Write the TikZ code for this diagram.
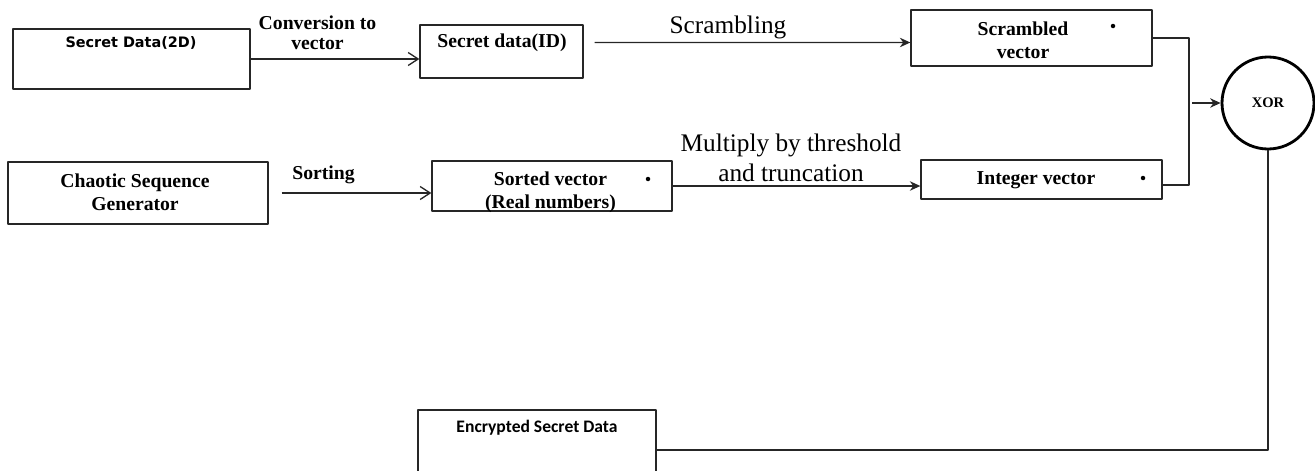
\documentclass[tikz,border=0pt]{standalone}
\usepackage{fontspec}
\setmainfont{Liberation Serif}
\newfontfamily\dvsans{DejaVu Sans}
\newfontfamily\carlito{Carlito}
\usetikzlibrary{arrows.meta}
\tikzset{
  every picture/.style={line join=round, >=Stealth},
  box/.style={draw=black!85, line width=0.75pt, inner sep=0pt},
  boxtext/.style={font=\fontsize{11.2}{13}\selectfont\bfseries, align=center, inner sep=0pt},
  steplabel/.style={font=\fontsize{11.2}{11.5}\selectfont\bfseries, align=center, inner sep=0pt},
  oplabel/.style={font=\fontsize{14.4}{17}\selectfont, align=center, inner sep=0pt},
  link/.style={draw=black!85, line width=0.75pt},
  openarrow/.style={link, -{Straight Barb[length=2mm,width=2.6mm]}},
  fillarrow/.style={link, -{Stealth[length=2.1mm,width=1.9mm]}},
}

\begin{document}
\begin{tikzpicture}
\useasboundingbox (0,0) rectangle (26.300,9.400);
\clip (0,0) rectangle (26.300,9.400);
\node[box,minimum width=4.740cm,minimum height=1.200cm] (sd2) at (2.630,8.220) {};
\node[font=\dvsans\bfseries\fontsize{8.2}{10}\selectfont] (sd2txt) at (2.620,8.540) {Secret Data(2D)};
\node[box,minimum width=3.260cm,minimum height=1.060cm] (sd1) at (10.030,8.370) {};
\node[boxtext] (sd1txt) at (10.040,8.540) {Secret data(ID)};
\node[box,minimum width=4.820cm,minimum height=1.120cm] (scr) at (20.630,8.640) {};
\node[boxtext] (scrtxt) at (20.460,8.600) {Scrambled\\vector};
\fill (22.260,8.880) circle[radius=0.045];
\node[box,minimum width=5.200cm,minimum height=1.240cm] (chaos) at (2.760,5.540) {};
\node[boxtext] (chaostxt) at (2.700,5.560) {Chaotic Sequence\\Generator};
\node[box,minimum width=4.800cm,minimum height=1.000cm] (sorted) at (11.040,5.680) {};
\node[boxtext] (sortedtxt) at (11.010,5.560) {Sorted vector\\(Real numbers)};
\fill (12.960,5.820) circle[radius=0.045];
\node[box,minimum width=4.820cm,minimum height=0.780cm] (int) at (20.830,5.810) {};
\node[boxtext] (inttxt) at (20.720,5.800) {Integer vector};
\fill (22.860,5.840) circle[radius=0.045];
\node[draw,circle,line width=1.6pt,minimum size=1.840cm,inner sep=0pt,font=\bfseries\fontsize{8.3}{10}\selectfont] (xor) at (25.360,7.340) {XOR};
\node[box,minimum width=4.760cm,minimum height=1.600cm] (enc) at (10.740,0.400) {};
\node[font=\carlito\bfseries\fontsize{10}{12}\selectfont] (enctxt) at (10.740,0.840) {Encrypted Secret Data};

\node[steplabel] (convlbl) at (6.350,8.740) {Conversion to\\vector};
\node[oplabel] (scrlbl) at (14.560,8.860) {Scrambling};
\node[steplabel] (sortlbl) at (6.470,5.900) {Sorting};
\node[oplabel] (mullbl) at (15.820,6.240) {Multiply by threshold\\and truncation};

\coordinate (mrg) at (23.780,7.340);
\draw[openarrow] (sd2.east) -- (sd2.east -| sd1.west);
\draw[fillarrow] ([shift={(0.22,0.18)}]sd1.east) -- ([yshift=-0.09cm]scr.west);
\draw[openarrow] ([xshift=0.26cm]chaos.east) -- (chaos.east -| sorted.west);
\draw[fillarrow] (sorted.east) -- (sorted.east -| int.west);
\draw[link] (scr.east) -| (mrg) |- ([yshift=-0.11cm]int.east);
\draw[fillarrow] ([xshift=0.06cm]mrg) -- (xor.west);
\draw[link] (xor.south) |- (enc.east);
\end{tikzpicture}
\end{document}
